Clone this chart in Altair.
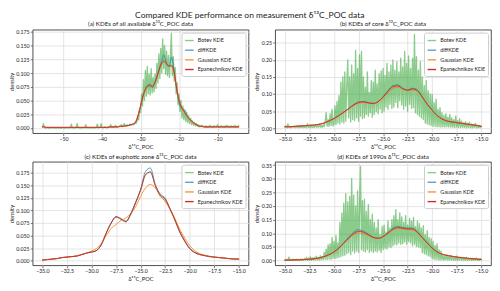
import altair as alt
import numpy as np
import pandas as pd

SERIES = ["Botev KDE", "diffKDE", "Gaussian KDE", "Epanechnikov KDE"]
COLORS = ["#2ca02c", "#1f77b4", "#ff7f0e", "#d62728"]
OPACITIES = [0.55, 1.0, 1.0, 1.0]
XTITLE = "δ¹³C_POC"

# ---------------- panel (a): all available data ----------------
a_green_start, a_green_step = -55.5, 0.25
a_green = [
    0.002, 0.008, 0.001, 0.000, 0.000, 0.001, 0.000, 0.000, 0.000, 0.001,
    0.000, 0.000, 0.001, 0.000, 0.000, 0.000, 0.001, 0.000, 0.000, 0.000,
    0.000, 0.001, 0.000, 0.000, 0.000, 0.001, 0.000, 0.000, 0.001, 0.000,
    0.007, 0.000, 0.001, 0.000, 0.000, 0.001, 0.008, 0.000, 0.001, 0.000,
    0.000, 0.001, 0.000, 0.001, 0.000, 0.006, 0.000, 0.001, 0.000, 0.001,
    0.000, 0.001, 0.000, 0.000, 0.001, 0.000, 0.001, 0.007, 0.000, 0.001,
    0.001, 0.008, 0.001, 0.000, 0.001, 0.002, 0.001, 0.000, 0.002, 0.001,
    0.001, 0.006, 0.001, 0.002, 0.001, 0.002, 0.005, 0.002, 0.001, 0.003,
    0.002, 0.003, 0.006, 0.002, 0.004, 0.008, 0.003, 0.004, 0.006, 0.004,
    0.005, 0.007, 0.005, 0.006, 0.007, 0.006, 0.009, 0.008,
    0.010, 0.022, 0.015, 0.035, 0.028, 0.062, 0.040, 0.088, 0.050, 0.105,
    0.058, 0.112, 0.062, 0.098, 0.060, 0.108, 0.064, 0.092, 0.066, 0.098,
    0.072, 0.118, 0.082, 0.135, 0.090, 0.145, 0.100, 0.162, 0.108, 0.150,
    0.098, 0.140, 0.095, 0.132, 0.092, 0.128, 0.172, 0.095, 0.130, 0.085,
    0.110, 0.062, 0.082, 0.042, 0.062, 0.030, 0.050, 0.018, 0.040, 0.015,
    0.032, 0.012, 0.028, 0.010, 0.022, 0.008, 0.018, 0.006, 0.013, 0.005,
    0.010, 0.004, 0.008, 0.003, 0.006,
    0.002, 0.004, 0.002, 0.005, 0.002, 0.003, 0.002, 0.004, 0.001, 0.003,
    0.002, 0.005, 0.002, 0.003, 0.001, 0.004, 0.002, 0.003, 0.002, 0.006,
    0.001, 0.003, 0.002, 0.004, 0.002, 0.003, 0.001, 0.004, 0.002, 0.005,
    0.002, 0.003, 0.001, 0.004, 0.002, 0.003, 0.002, 0.005, 0.001, 0.003,
    0.002, 0.004,
]
a_smooth_start, a_smooth_step = -55.5, 0.5
a_flat = [0.002, 0.002] + [0.001] * 8 + [0.001] * 10 + [0.001] * 10 + \
    [0.001, 0.001, 0.001, 0.001, 0.001, 0.002, 0.002, 0.002, 0.002, 0.002]
a_tail = [0.006, 0.004, 0.003, 0.003, 0.002, 0.002, 0.002, 0.002, 0.002, 0.002,
          0.002, 0.002, 0.002, 0.002, 0.002, 0.002, 0.002, 0.002, 0.002, 0.002,
          0.002, 0.002, 0.002]
a_blue = a_flat + [
    0.003, 0.003, 0.003, 0.004, 0.004, 0.005, 0.006, 0.007, 0.009, 0.014,
    0.026, 0.040, 0.055, 0.067, 0.075, 0.079, 0.080, 0.074, 0.080, 0.088,
    0.100, 0.112, 0.122, 0.133, 0.124, 0.113, 0.112, 0.129, 0.115, 0.088,
    0.064, 0.046, 0.036, 0.034, 0.033, 0.024, 0.018, 0.014, 0.011, 0.008,
] + a_tail
a_orange = a_flat + [
    0.003, 0.003, 0.003, 0.004, 0.004, 0.005, 0.006, 0.007, 0.010, 0.016,
    0.027, 0.040, 0.054, 0.066, 0.073, 0.076, 0.077, 0.076, 0.079, 0.087,
    0.098, 0.109, 0.117, 0.120, 0.118, 0.114, 0.112, 0.112, 0.106, 0.089,
    0.068, 0.051, 0.040, 0.033, 0.027, 0.022, 0.018, 0.014, 0.011, 0.008,
] + a_tail
a_red = a_flat + [
    0.003, 0.003, 0.003, 0.004, 0.004, 0.005, 0.006, 0.007, 0.009, 0.015,
    0.027, 0.040, 0.055, 0.066, 0.073, 0.077, 0.077, 0.075, 0.079, 0.088,
    0.099, 0.110, 0.118, 0.122, 0.120, 0.115, 0.113, 0.114, 0.108, 0.090,
    0.067, 0.050, 0.040, 0.034, 0.028, 0.022, 0.018, 0.014, 0.011, 0.008,
] + a_tail

# ---------------- panel (b): core data ----------------
b_green_start, b_green_step = -35.0, 0.1
b_green = [
    0.003, 0.006, 0.001, 0.012, 0.002, 0.005, 0.001, 0.004, 0.002, 0.006,
    0.001, 0.005, 0.002, 0.007, 0.001, 0.004, 0.002, 0.006, 0.001, 0.005,
    0.002, 0.007, 0.001, 0.013, 0.002, 0.006, 0.001, 0.008, 0.002, 0.005,
    0.002, 0.009, 0.003, 0.007, 0.002, 0.012, 0.003, 0.008, 0.002, 0.010,
    0.004, 0.018, 0.045, 0.006, 0.025, 0.005, 0.042, 0.008, 0.055, 0.006,
    0.012, 0.065, 0.010, 0.078, 0.015, 0.095, 0.012, 0.135, 0.018, 0.150,
    0.015, 0.165, 0.020, 0.125, 0.200, 0.030, 0.150, 0.018, 0.185, 0.025,
    0.160, 0.022, 0.228, 0.030, 0.175, 0.020, 0.215, 0.035, 0.225, 0.028,
    0.150, 0.030, 0.120, 0.040, 0.165, 0.035, 0.105, 0.045, 0.140, 0.032,
    0.135, 0.040, 0.170, 0.048, 0.130, 0.042, 0.160, 0.055, 0.168, 0.045,
    0.175, 0.050, 0.155, 0.062, 0.190, 0.055, 0.165, 0.070, 0.185, 0.058,
    0.200, 0.062, 0.170, 0.075, 0.195, 0.060, 0.165, 0.080, 0.205, 0.068,
    0.180, 0.055, 0.225, 0.065, 0.190, 0.050, 0.212, 0.070, 0.175, 0.058,
    0.205, 0.060, 0.275, 0.045, 0.210, 0.040, 0.170, 0.035, 0.195, 0.030,
    0.150, 0.025, 0.125, 0.015, 0.140, 0.012, 0.110, 0.010, 0.100, 0.008,
    0.098, 0.006, 0.075, 0.005, 0.085, 0.004, 0.055, 0.004, 0.060, 0.003,
    0.045, 0.004, 0.038, 0.003, 0.042, 0.004, 0.032, 0.003, 0.040, 0.003,
    0.030, 0.003, 0.025, 0.002, 0.035, 0.003, 0.022, 0.002, 0.028, 0.002,
    0.020, 0.002, 0.016, 0.002, 0.019, 0.001, 0.014, 0.002, 0.017, 0.001,
    0.012, 0.001, 0.010, 0.002, 0.014, 0.001, 0.009, 0.001, 0.008, 0.001,
    0.006,
]
bcd_smooth_start, bcd_smooth_step = -35.0, 0.5
b_blue = [
    0.004, 0.004, 0.005, 0.006, 0.007, 0.008, 0.009, 0.011, 0.015, 0.021,
    0.028, 0.037, 0.047, 0.058, 0.069, 0.077, 0.078, 0.075, 0.073, 0.078,
    0.092, 0.110, 0.125, 0.127, 0.117, 0.112, 0.117, 0.112, 0.092, 0.070,
    0.053, 0.037, 0.027, 0.021, 0.018, 0.016, 0.014, 0.012, 0.010, 0.008,
    0.005,
]
b_orange = [
    0.004, 0.004, 0.005, 0.006, 0.007, 0.008, 0.009, 0.011, 0.015, 0.021,
    0.028, 0.036, 0.046, 0.056, 0.066, 0.073, 0.075, 0.073, 0.072, 0.077,
    0.089, 0.104, 0.116, 0.120, 0.114, 0.110, 0.112, 0.108, 0.090, 0.069,
    0.052, 0.037, 0.027, 0.021, 0.018, 0.016, 0.014, 0.012, 0.010, 0.008,
    0.005,
]
b_red = [
    0.004, 0.004, 0.005, 0.006, 0.007, 0.008, 0.009, 0.011, 0.015, 0.021,
    0.028, 0.037, 0.047, 0.057, 0.068, 0.075, 0.077, 0.074, 0.072, 0.078,
    0.091, 0.108, 0.121, 0.124, 0.116, 0.111, 0.115, 0.110, 0.091, 0.070,
    0.053, 0.037, 0.027, 0.021, 0.018, 0.016, 0.014, 0.012, 0.010, 0.008,
    0.005,
]

# ---------------- panel (c): euphotic zone ----------------
c_green = [
    0.001, 0.002, 0.003, 0.004, 0.006, 0.007, 0.008, 0.009, 0.012, 0.015,
    0.017, 0.020, 0.032, 0.055, 0.075, 0.087, 0.082, 0.077, 0.092, 0.115,
    0.140, 0.170, 0.177, 0.150, 0.128, 0.120, 0.102, 0.080, 0.056, 0.038,
    0.024, 0.016, 0.012, 0.010, 0.008, 0.007, 0.006, 0.005, 0.004, 0.003,
    0.003,
]
c_blue = [
    0.001, 0.002, 0.003, 0.004, 0.006, 0.007, 0.008, 0.009, 0.012, 0.015,
    0.017, 0.020, 0.032, 0.055, 0.075, 0.088, 0.084, 0.079, 0.094, 0.117,
    0.142, 0.178, 0.185, 0.152, 0.133, 0.125, 0.104, 0.082, 0.058, 0.040,
    0.025, 0.017, 0.013, 0.010, 0.008, 0.007, 0.006, 0.005, 0.004, 0.003,
    0.003,
]
c_orange = [
    0.001, 0.002, 0.003, 0.004, 0.006, 0.007, 0.008, 0.010, 0.012, 0.015,
    0.019, 0.024, 0.034, 0.050, 0.064, 0.072, 0.080, 0.085, 0.094, 0.108,
    0.128, 0.145, 0.152, 0.145, 0.130, 0.118, 0.103, 0.084, 0.062, 0.045,
    0.030, 0.020, 0.014, 0.011, 0.009, 0.007, 0.006, 0.005, 0.004, 0.004,
    0.003,
]
c_red = [
    0.001, 0.002, 0.003, 0.004, 0.006, 0.007, 0.008, 0.009, 0.012, 0.015,
    0.017, 0.020, 0.032, 0.055, 0.075, 0.087, 0.083, 0.078, 0.093, 0.116,
    0.141, 0.172, 0.177, 0.150, 0.131, 0.123, 0.103, 0.081, 0.057, 0.039,
    0.024, 0.016, 0.012, 0.010, 0.008, 0.007, 0.006, 0.005, 0.004, 0.003,
    0.003,
]

# ---------------- panel (d): 1990s ----------------
d_green = [
    0.001, 0.004, 0.001, 0.003, 0.013, 0.001, 0.004, 0.001, 0.005, 0.001,
    0.003, 0.001, 0.005, 0.001, 0.004, 0.002, 0.006, 0.001, 0.005, 0.002,
    0.008, 0.002, 0.012, 0.001, 0.009, 0.002, 0.014, 0.001, 0.010, 0.002,
    0.012, 0.002, 0.016, 0.003, 0.011, 0.002, 0.018, 0.003, 0.014, 0.004,
    0.030, 0.005, 0.042, 0.004, 0.058, 0.006, 0.062, 0.005, 0.085, 0.008,
    0.070, 0.008, 0.092, 0.010, 0.065, 0.012, 0.140, 0.015, 0.175, 0.018,
    0.210, 0.020, 0.245, 0.025, 0.215, 0.030, 0.235, 0.022, 0.300, 0.035,
    0.240, 0.028, 0.200, 0.035, 0.255, 0.030, 0.190, 0.345, 0.040, 0.220,
    0.035, 0.225, 0.032, 0.180, 0.040, 0.205, 0.030, 0.150, 0.035, 0.170,
    0.030, 0.140, 0.035, 0.120, 0.032, 0.150, 0.038, 0.095, 0.030, 0.125,
    0.040, 0.130, 0.045, 0.105, 0.042, 0.145, 0.050, 0.120, 0.048, 0.150,
    0.055, 0.165, 0.060, 0.187, 0.058, 0.150, 0.065, 0.175, 0.060, 0.160,
    0.062, 0.140, 0.068, 0.165, 0.060, 0.130, 0.070, 0.155, 0.065, 0.145,
    0.055, 0.158, 0.060, 0.125, 0.052, 0.145, 0.050, 0.135, 0.048, 0.120,
    0.030, 0.128, 0.025, 0.095, 0.022, 0.110, 0.018, 0.085, 0.015, 0.080,
    0.008, 0.070, 0.005, 0.055, 0.004, 0.062, 0.003, 0.040, 0.003, 0.035,
    0.003, 0.020, 0.002, 0.016, 0.003, 0.022, 0.002, 0.014, 0.002, 0.018,
    0.002, 0.015, 0.001, 0.012, 0.002, 0.016, 0.001, 0.010, 0.002, 0.013,
    0.001, 0.011, 0.002, 0.009, 0.001, 0.012, 0.001, 0.008, 0.002, 0.010,
    0.001, 0.009, 0.001, 0.007, 0.002, 0.010, 0.001, 0.006, 0.001, 0.008,
    0.003,
]
d_blue = [
    0.002, 0.002, 0.003, 0.003, 0.004, 0.005, 0.007, 0.010, 0.015, 0.022,
    0.032, 0.047, 0.066, 0.086, 0.104, 0.113, 0.108, 0.097, 0.086, 0.082,
    0.088, 0.103, 0.119, 0.125, 0.121, 0.119, 0.119, 0.106, 0.085, 0.065,
    0.046, 0.032, 0.024, 0.019, 0.016, 0.013, 0.011, 0.009, 0.007, 0.006,
    0.004,
]
d_orange = [
    0.002, 0.002, 0.003, 0.003, 0.004, 0.005, 0.007, 0.010, 0.015, 0.022,
    0.031, 0.045, 0.062, 0.080, 0.094, 0.101, 0.099, 0.092, 0.084, 0.081,
    0.087, 0.099, 0.111, 0.117, 0.116, 0.114, 0.112, 0.101, 0.083, 0.064,
    0.046, 0.032, 0.024, 0.019, 0.016, 0.013, 0.011, 0.009, 0.007, 0.006,
    0.004,
]
d_red = [
    0.002, 0.002, 0.003, 0.003, 0.004, 0.005, 0.007, 0.010, 0.015, 0.022,
    0.032, 0.046, 0.064, 0.083, 0.099, 0.107, 0.104, 0.095, 0.085, 0.082,
    0.088, 0.101, 0.115, 0.121, 0.119, 0.116, 0.116, 0.104, 0.084, 0.065,
    0.046, 0.032, 0.024, 0.019, 0.016, 0.013, 0.011, 0.009, 0.007, 0.006,
    0.004,
]

# tick values
a_xticks = [-50, -40, -30, -20, -10]
bcd_xticks = [-35, -32.5, -30, -27.5, -25, -22.5, -20, -17.5, -15]
a_yticks = [0, 0.025, 0.05, 0.075, 0.1, 0.125, 0.15, 0.175]
b_yticks = [0, 0.05, 0.1, 0.15, 0.2, 0.25]
c_yticks = [0, 0.025, 0.05, 0.075, 0.1, 0.125, 0.15, 0.175]
d_yticks = [0, 0.05, 0.1, 0.15, 0.2, 0.25, 0.3, 0.35]

W, H = 219, 105
FONT = "Lato"


def grid(start, step, n):
    return start + step * np.arange(n)


def legend():
    return alt.Legend(
        title=None, orient="top-right", offset=3,
        fillColor="white", strokeColor="#cccccc", padding=2.5, cornerRadius=2,
        labelFontSize=5.5, labelFont=FONT, labelColor="#222",
        symbolType="stroke", symbolStrokeWidth=1.4, symbolSize=75,
        rowPadding=0.8, labelOffset=3,
    )


def panel(title, gstart, gstep, green, sstart, sstep, blue, orange, red,
          xdom, ydom, xticks, yticks, xfmt, yfmt, green_smooth=False):
    frames = []
    frames.append(pd.DataFrame({"x": grid(gstart, gstep, len(green)), "y": green,
                                "series": "Botev KDE"}))
    for name, vals in [("diffKDE", blue), ("Gaussian KDE", orange),
                       ("Epanechnikov KDE", red)]:
        frames.append(pd.DataFrame({"x": grid(sstart, sstep, len(vals)), "y": vals,
                                    "series": name}))
    df = pd.concat(frames, ignore_index=True)

    color = alt.Color("series:N", scale=alt.Scale(domain=SERIES, range=COLORS),
                      legend=legend())
    opacity = alt.Opacity("series:N", scale=alt.Scale(domain=SERIES, range=OPACITIES),
                          legend=legend())
    xenc = alt.X("x:Q", scale=alt.Scale(domain=xdom, nice=False, zero=False),
                 axis=alt.Axis(values=xticks, format=xfmt, title=XTITLE))
    yenc = alt.Y("y:Q", scale=alt.Scale(domain=ydom, nice=False, zero=False),
                 axis=alt.Axis(values=yticks, format=yfmt, title="density"))
    specs = [
        ("Botev KDE", 1.0 if green_smooth else 1.35, "monotone" if green_smooth else "linear"),
        ("diffKDE", 1.0, "monotone"),
        ("Gaussian KDE", 1.0, "monotone"),
        ("Epanechnikov KDE", 0.9, "monotone"),
    ]
    layers = []
    for s, w, interp in specs:
        layers.append(
            alt.Chart(df).transform_filter(alt.datum.series == s)
            .mark_line(strokeWidth=w, interpolate=interp, clip=True,
                       strokeJoin="round", strokeCap="round")
            .encode(x=xenc, y=yenc, color=color, opacity=opacity)
        )
    return alt.layer(*layers).properties(
        width=W, height=H,
        title=alt.TitleParams(title, fontSize=6.3, offset=2, font=FONT),
    )


pa = panel("(a) KDEs of all available δ¹³C_POC data",
           a_green_start, a_green_step, a_green, a_smooth_start, a_smooth_step,
           a_blue, a_orange, a_red, [-58.05, -1.95], [-0.0095, 0.179],
           a_xticks, a_yticks, "d", ".3f")
pb = panel("(b) KDEs of core δ¹³C_POC data",
           b_green_start, b_green_step, b_green, bcd_smooth_start, bcd_smooth_step,
           b_blue, b_orange, b_red, [-36, -14], [-0.015, 0.289],
           bcd_xticks, b_yticks, ".1f", ".2f")
pc = panel("(c) KDEs of euphotic zone δ¹³C_POC data",
           bcd_smooth_start, bcd_smooth_step, c_green, bcd_smooth_start, bcd_smooth_step,
           c_blue, c_orange, c_red, [-36, -14], [-0.0094, 0.1974],
           bcd_xticks, c_yticks, ".1f", ".3f", green_smooth=True)
pd_ = panel("(d) KDEs of 1990s δ¹³C_POC data",
            b_green_start, b_green_step, d_green, bcd_smooth_start, bcd_smooth_step,
            d_blue, d_orange, d_red, [-36, -14], [-0.017, 0.362],
            bcd_xticks, d_yticks, ".1f", ".2f")

row1 = alt.hconcat(pa, pb, spacing=4).resolve_scale(color="independent", opacity="independent")
row2 = alt.hconcat(pc, pd_, spacing=4).resolve_scale(color="independent", opacity="independent")

chart = alt.vconcat(row1, row2, spacing=3).resolve_scale(
    color="independent", opacity="independent"
).properties(
    title=alt.TitleParams("Compared KDE performance on measurement δ¹³C_POC data",
                          fontSize=8.6, anchor="middle", offset=2, font=FONT),
    padding={"left": 0, "top": 0, "right": 0, "bottom": 0},
).configure(font=FONT).configure_view(
    stroke="#222", strokeWidth=0.8
).configure_axis(
    grid=True, gridColor="#dcdcdc", gridWidth=0.8, domain=False,
    tickColor="#222", tickSize=2.5, tickWidth=0.6,
    labelFont=FONT, labelFontSize=5.3, labelColor="#222", labelPadding=1.2,
    titleFont=FONT, titleFontSize=5.8, titleFontWeight="normal", titleColor="#222",
    titlePadding=1.2,
).configure_title(fontWeight="normal", color="#222")

chart.save("out.html", embed_options={"renderer": "svg", "actions": False})
